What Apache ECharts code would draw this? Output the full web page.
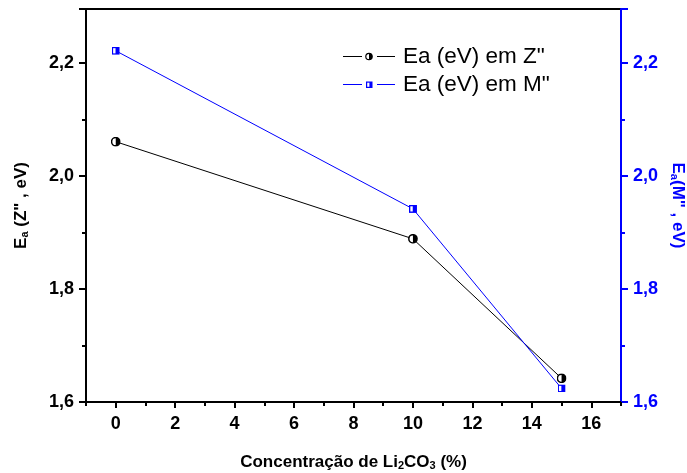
<!DOCTYPE html>
<html><head><meta charset="utf-8">
<script src="https://cdn.jsdelivr.net/npm/echarts@6/dist/echarts.min.js"></script>
<style>html,body{margin:0;padding:0;background:#fff}#c{width:687px;height:473px}</style>
</head><body><div id="c"></div>
<script>
const concentrations = [0, 10, 15];
const eaZ = [2.061, 1.889, 1.642];
const eaM = [2.222, 1.942, 1.624];
const seriesNames = ['Ea (eV) em Z"', 'Ea (eV) em M"'];
const xMajorTicks = [0, 2, 4, 6, 8, 10, 12, 14, 16];
const xMinorTicks = [-1, 1, 3, 5, 7, 9, 11, 13, 15, 17];

const FONT = 'Arial, "Liberation Sans", sans-serif';
const circleSvg = "<svg xmlns='http://www.w3.org/2000/svg' width='20' height='20' viewBox='0 0 20 20'><circle cx='10' cy='10' r='8.3' fill='white' stroke='black' stroke-width='3'/><path d='M10 1.7 A8.3 8.3 0 0 1 10 18.3 Z' fill='black'/></svg>";
const squareSvg = "<svg xmlns='http://www.w3.org/2000/svg' width='20' height='20' viewBox='0 0 20 20'><rect x='0' y='0' width='20' height='20' fill='#0000ff'/><rect x='3.5' y='3.5' width='6' height='13' fill='white'/></svg>";
const legendCircle = "<svg xmlns='http://www.w3.org/2000/svg' width='52' height='10' viewBox='0 0 52 10' preserveAspectRatio='none'><line x1='0' y1='5' x2='19' y2='5' stroke='black' stroke-width='1'/><line x1='34' y1='5' x2='52' y2='5' stroke='black' stroke-width='1'/><circle cx='26' cy='5' r='3.2' fill='white' stroke='black' stroke-width='1.2'/><path d='M26 1.8 A3.2 3.2 0 0 1 26 8.2 Z' fill='black'/></svg>";
const legendSquare = "<svg xmlns='http://www.w3.org/2000/svg' width='52' height='10' viewBox='0 0 52 10' preserveAspectRatio='none'><line x1='0' y1='5' x2='19' y2='5' stroke='#0000ff' stroke-width='1'/><line x1='34' y1='5' x2='52' y2='5' stroke='#0000ff' stroke-width='1'/><rect x='23' y='2' width='6.5' height='6.5' fill='#0000ff'/><rect x='24.2' y='3.2' width='2.2' height='4.1' fill='white'/></svg>";
const img = s => 'image://data:image/svg+xml;charset=utf-8,' + encodeURIComponent(s);

const mkRich = (color) => ({
  b: {fontSize: 17, fontWeight: 'bold', fontFamily: FONT, color: color},
  s: {fontSize: 11, fontWeight: 'bold', fontFamily: FONT, color: color, padding: [7, 0, 0, 0]}
});

const chart = echarts.init(document.getElementById('c'), null, {renderer: 'canvas'});
chart.setOption({
  animation: false,
  backgroundColor: '#fff',
  grid: {left: 86, right: 66, top: 9, bottom: 71, outerBoundsMode: 'none', containLabel: false,
    show: true, borderColor: '#000', borderWidth: 2, backgroundColor: 'transparent'},
  legend: {
    orient: 'vertical', left: 343, top: 45, padding: 0, itemWidth: 52, itemHeight: 10, itemGap: 5,
    textStyle: {fontSize: 22.5, fontFamily: FONT, color: '#000', padding: [0, 0, 0, 3]},
    data: [{name: seriesNames[0], icon: img(legendCircle)}, {name: seriesNames[1], icon: img(legendSquare)}]
  },
  xAxis: [{
    type: 'value', min: -1, max: 17, position: 'bottom',
    name: '{b|Concentração de Li}{s|2}{b|CO}{s|3}{b| (%)}', nameLocation: 'middle', nameGap: 51,
    nameTextStyle: {rich: mkRich('#000')},
    axisLine: {show: true, onZero: false, lineStyle: {color: '#000', width: 2}},
    axisTick: {show: true, inside: false, length: 6, lineStyle: {width: 2, color: '#000'}, customValues: xMajorTicks},
    axisLabel: {customValues: xMajorTicks, margin: 13, fontSize: 18, fontWeight: 'bold', fontFamily: FONT, color: '#000'},
    splitLine: {show: false}
  }, {
    type: 'value', min: -1, max: 17, position: 'bottom',
    axisLine: {show: false, onZero: false}, axisLabel: {show: false}, splitLine: {show: false},
    axisTick: {show: true, length: 4, lineStyle: {width: 2, color: '#000'}, customValues: xMinorTicks}
  }],
  yAxis: [{
    type: 'value', min: 1.6, max: 2.296, interval: 0.2, position: 'left',
    name: '{b|E}{s|a}{b| (Z" , eV)}', nameLocation: 'middle', nameRotate: 90, nameGap: 56,
    nameTextStyle: {rich: mkRich('#000')},
    axisLine: {show: true, onZero: false, lineStyle: {color: '#000', width: 2}},
    axisTick: {show: true, length: 7, lineStyle: {width: 2}},
    minorTick: {show: true, splitNumber: 2, length: 4, lineStyle: {width: 2, color: '#000'}},
    axisLabel: {margin: 12, fontSize: 18, fontWeight: 'bold', fontFamily: FONT, color: '#000',
      formatter: v => v.toFixed(1).replace('.', ','), showMaxLabel: false},
    splitLine: {show: false}
  }, {
    type: 'value', min: 1.6, max: 2.296, interval: 0.2, position: 'right',
    name: '{b|E}{s|a}{b|(M" , eV)}', nameLocation: 'middle', nameRotate: -90, nameGap: 47,
    nameTextStyle: {rich: mkRich('#0000ff')},
    axisLine: {show: true, onZero: false, lineStyle: {color: '#0000ff', width: 2}},
    axisTick: {show: true, length: 7, lineStyle: {width: 2, color: '#0000ff'}},
    minorTick: {show: true, splitNumber: 2, length: 4, lineStyle: {width: 2, color: '#0000ff'}},
    axisLabel: {margin: 12, fontSize: 18, fontWeight: 'bold', fontFamily: FONT, color: '#0000ff',
      formatter: v => v.toFixed(1).replace('.', ','), showMaxLabel: false},
    splitLine: {show: false}
  }],
  series: [{
    name: seriesNames[0], type: 'line', xAxisIndex: 0, yAxisIndex: 0,
    data: concentrations.map((x, i) => [x, eaZ[i]]),
    symbol: img(circleSvg), symbolSize: 10,
    lineStyle: {color: '#000', width: 1}, itemStyle: {color: '#000'}, z: 3
  }, {
    name: seriesNames[1], type: 'line', xAxisIndex: 0, yAxisIndex: 1,
    data: concentrations.map((x, i) => [x, eaM[i]]),
    symbol: img(squareSvg), symbolSize: 8,
    lineStyle: {color: '#0000ff', width: 1}, itemStyle: {color: '#0000ff'}, z: 4
  }]
});
</script></body></html>
